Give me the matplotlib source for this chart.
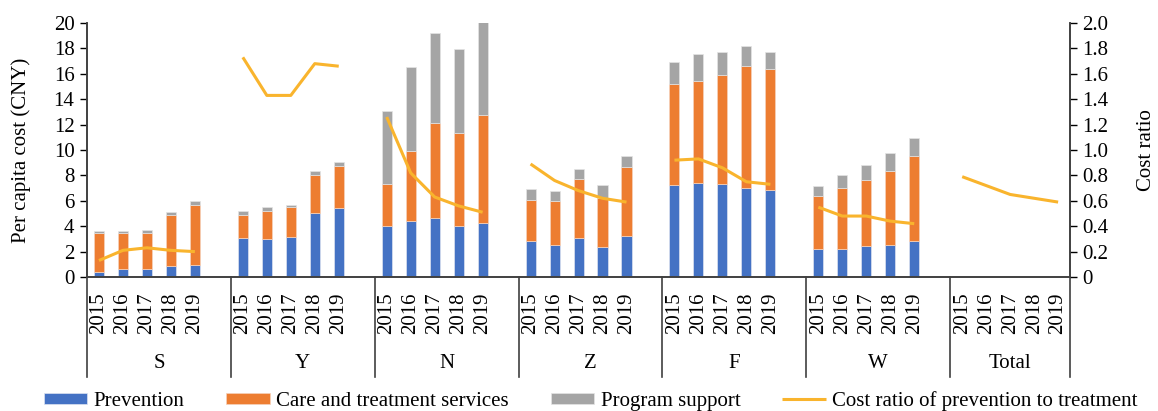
import numpy as np
import matplotlib.pyplot as plt
from matplotlib.transforms import blended_transform_factory

plt.rcParams['font.family'] = ['Liberation Serif', 'DejaVu Serif']
plt.rcParams['font.size'] = 15

groups = ['S', 'Y', 'N', 'Z', 'F', 'W', 'Total']
years = ['2015', '2016', '2017', '2018', '2019']

# per capita cost (CNY), one row per region, Total has no bars
prevention = [[0.42, 0.60, 0.65, 0.84, 0.97],
              [3.10, 3.02, 3.17, 5.01, 5.46],
              [4.04, 4.43, 4.65, 4.04, 4.28],
              [2.81, 2.54, 3.10, 2.39, 3.20],
              [7.27, 7.38, 7.35, 7.03, 6.87],
              [2.23, 2.23, 2.47, 2.54, 2.81]]
care = [[3.02, 2.89, 2.79, 4.02, 4.67],
        [1.76, 2.15, 2.32, 3.05, 3.31],
        [3.26, 5.49, 7.50, 7.30, 8.50],
        [3.23, 3.42, 4.62, 3.81, 5.46],
        [7.95, 8.02, 8.58, 9.61, 9.53],
        [4.12, 4.80, 5.19, 5.83, 6.74]]
support = [[0.21, 0.16, 0.26, 0.26, 0.32],
           [0.36, 0.32, 0.21, 0.26, 0.29],
           [5.75, 6.62, 7.05, 6.61, 7.27],
           [0.91, 0.81, 0.78, 1.04, 0.84],
           [1.73, 2.16, 1.79, 1.57, 1.29],
           [0.84, 1.00, 1.16, 1.37, 1.42]]
# cost ratio of prevention to treatment
ratio = [[0.13, 0.21, 0.23, 0.21, 0.20],
         [1.73, 1.43, 1.43, 1.68, 1.66],
         [1.26, 0.82, 0.63, 0.56, 0.51],
         [0.89, 0.76, 0.68, 0.62, 0.59],
         [0.92, 0.93, 0.86, 0.75, 0.73],
         [0.55, 0.48, 0.48, 0.44, 0.42],
         [0.79, 0.72, 0.65, 0.62, 0.59]]

c_prev = '#4472C4'
c_care = '#ED7D31'
c_sup = '#A5A5A5'
c_line = '#F9B42D'

fig = plt.figure(figsize=(11.58, 4.11), dpi=100)
ax = fig.add_axes([0.0751, 0.326, 0.849, 0.618])
ax2 = ax.twinx()

# each region takes 5 year slots plus one empty slot
xs = []
xlabels = []
for g in range(len(groups)):
    for i in range(5):
        xs.append(g * 6 + i)
        xlabels.append(years[i])

w = 0.42
for g in range(len(prevention)):
    x = np.arange(5) + g * 6
    p = np.array(prevention[g])
    c = np.array(care[g])
    s = np.array(support[g])
    ax.bar(x, p, w, color=c_prev, edgecolor='#DCE3F0', linewidth=0.5,
           label='Prevention' if g == 0 else None)
    ax.bar(x, c, w, bottom=p, color=c_care, edgecolor='#F6D2BC', linewidth=0.5,
           label='Care and treatment services' if g == 0 else None)
    ax.bar(x, s, w, bottom=p + c, color=c_sup, edgecolor='#E4E4E4', linewidth=0.5,
           label='Program support' if g == 0 else None)

for g in range(len(ratio)):
    x = np.arange(5) + g * 6
    ax2.plot(x, ratio[g], color=c_line, lw=2.2, solid_capstyle='butt',
             label='Cost ratio of prevention to treatment' if g == 0 else None)

ax.set_xlim(-0.5, 40.5)
ax.set_ylim(0, 20)
ax.set_yticks(np.arange(0, 21, 2))
ax2.set_ylim(0, 2.0)
ax2.set_yticks(np.arange(0, 2.01, 0.2))
ax2.set_yticklabels(['0'] + ['%.1f' % v for v in np.arange(0.2, 2.01, 0.2)])

ax.set_xticks(xs)
ax.set_xticklabels(xlabels, rotation=90)
ax.tick_params(axis='x', length=0, pad=11)
ax.tick_params(axis='y', direction='out', length=5, width=1, pad=4)
ax2.tick_params(axis='y', direction='out', length=5, width=1, pad=4)

for a in (ax, ax2):
    a.spines['top'].set_visible(False)
    for sp in ('left', 'right', 'bottom'):
        a.spines[sp].set_color('#404040')
        a.spines[sp].set_linewidth(1.2)

ax.set_ylabel('Per capita cost (CNY)', labelpad=16)
ax2.set_ylabel('Cost ratio', labelpad=20)

# group dividers and group names below the axis
tr = blended_transform_factory(ax.transData, ax.transAxes)
bounds = [-0.5, 5.5, 11.5, 17.5, 23.5, 29.5, 35.5, 40.5]
for b in bounds:
    ax.plot([b, b], [0, -0.395], transform=tr, color='#404040', lw=1.2,
            clip_on=False)
for g in range(len(groups)):
    cx = (bounds[g] + bounds[g + 1]) / 2
    ax.text(cx, -0.34, groups[g], transform=tr, ha='center', va='center')

h1, l1 = ax.get_legend_handles_labels()
h2, l2 = ax2.get_legend_handles_labels()
fig.legend(h1 + h2, l1 + l2, loc='center', bbox_to_anchor=(0.51, 0.025),
           ncol=4, frameon=False, handlelength=2.1, handleheight=0.45,
           columnspacing=2.0, handletextpad=0.3, borderaxespad=0)

plt.savefig('out.png', dpi=100)
